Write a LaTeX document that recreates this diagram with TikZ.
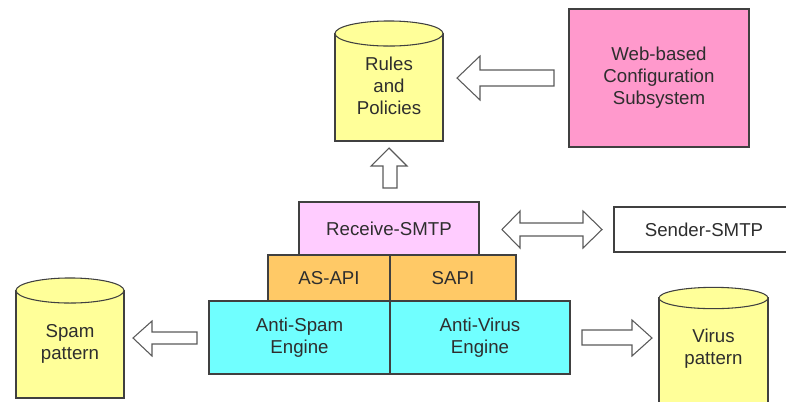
\documentclass[tikz,border=0pt]{standalone}
\usepackage{fontspec}
\setmainfont{Liberation Sans}
\definecolor{ink}{HTML}{2E2E2E}
\definecolor{edge}{HTML}{404040}
\definecolor{arrowedge}{HTML}{5A5A5A}
\definecolor{dbyellow}{HTML}{FFFF99}
\definecolor{webpink}{HTML}{FF99CC}
\definecolor{smtppink}{HTML}{FFCCFF}
\definecolor{apiorange}{HTML}{FFC966}
\definecolor{enginecyan}{HTML}{70FFFF}
\tikzset{
  lbl/.style={text=ink, align=center, font=\fontsize{14pt}{16.5pt}\selectfont, inner sep=0pt},
  box/.style={lbl, draw=edge, line width=0.8pt, minimum width=#1, inner sep=0pt},
  cyl/.style={fill=dbyellow, draw=edge, line width=0.8pt},
  blockarrow/.style={fill=white, draw=arrowedge, line width=0.8pt, line join=miter},
}
\begin{document}
\begin{tikzpicture}[x=0.75pt,y=-0.75pt]
\useasboundingbox (0,0) rectangle (786,401);
\clip (0,0) rectangle (786,401);

% databases: flat bottom, elliptical top
\filldraw[cyl] (335,33.5) rectangle (443,141);
\filldraw[cyl] (389,33.5) ellipse [x radius=40.5pt, y radius=9.4pt];
\node[lbl] (rules) at (389,86) {Rules\\and\\Policies};

\filldraw[cyl] (16,290.5) rectangle (124,398);
\filldraw[cyl] (70,290.5) ellipse [x radius=40.5pt, y radius=9.4pt];
\node[lbl] (spam) at (70,344) {Spam\\pattern};

\filldraw[cyl] (659,298) rectangle (768,420);
\filldraw[cyl] (713.5,298) ellipse [x radius=40.9pt, y radius=8pt];
\node[lbl] (virus) at (713.5,349) {Virus\\pattern};

% configuration subsystem
\node[box=135pt, fill=webpink, minimum height=103.5pt] (web) at (659,78)
  {Web-based\\Configuration\\Subsystem};

% protocol stack
\node[box=135pt, fill=smtppink, minimum height=39.75pt] (recv) at (389,228.5) {Receive-SMTP};
\node[box=91.5pt, fill=apiorange, minimum height=34.5pt] (asapi) at (329,278) {AS-API};
\node[box=94.5pt, fill=apiorange, minimum height=34.5pt] (sapi) at (453,278) {SAPI};
\node[box=135.75pt, fill=enginecyan, minimum height=54.75pt] (aspam) at (299.5,337.5) {Anti-Spam\\Engine};
\node[box=135pt, fill=enginecyan, minimum height=54.75pt] (avirus) at (480,337.5) {Anti-Virus\\Engine};

% peer
\node[box=135pt, fill=white, minimum height=33.75pt] (sender) at (704,229.5) {Sender-SMTP};

% block arrows
\filldraw[blockarrow] (457,78) -- (480,56) -- (480,70) -- (554,70) -- (554,86)
  -- (480,86) -- (480,100) -- cycle;
\filldraw[blockarrow] (389,148) -- (407,166) -- (397,166) -- (397,188) -- (383,188)
  -- (383,166) -- (371,166) -- cycle;
\filldraw[blockarrow] (502,229.5) -- (520,211) -- (520,223) -- (583,223) -- (583,211)
  -- (602,229.5) -- (583,248) -- (583,236) -- (520,236) -- (520,248) -- cycle;
\filldraw[blockarrow] (133,338) -- (152,321) -- (152,332) -- (197,332) -- (197,344)
  -- (152,344) -- (152,356) -- cycle;
\filldraw[blockarrow] (652,338) -- (632,320) -- (632,330) -- (582,330) -- (582,345)
  -- (632,345) -- (632,356) -- cycle;
\end{tikzpicture}
\end{document}
